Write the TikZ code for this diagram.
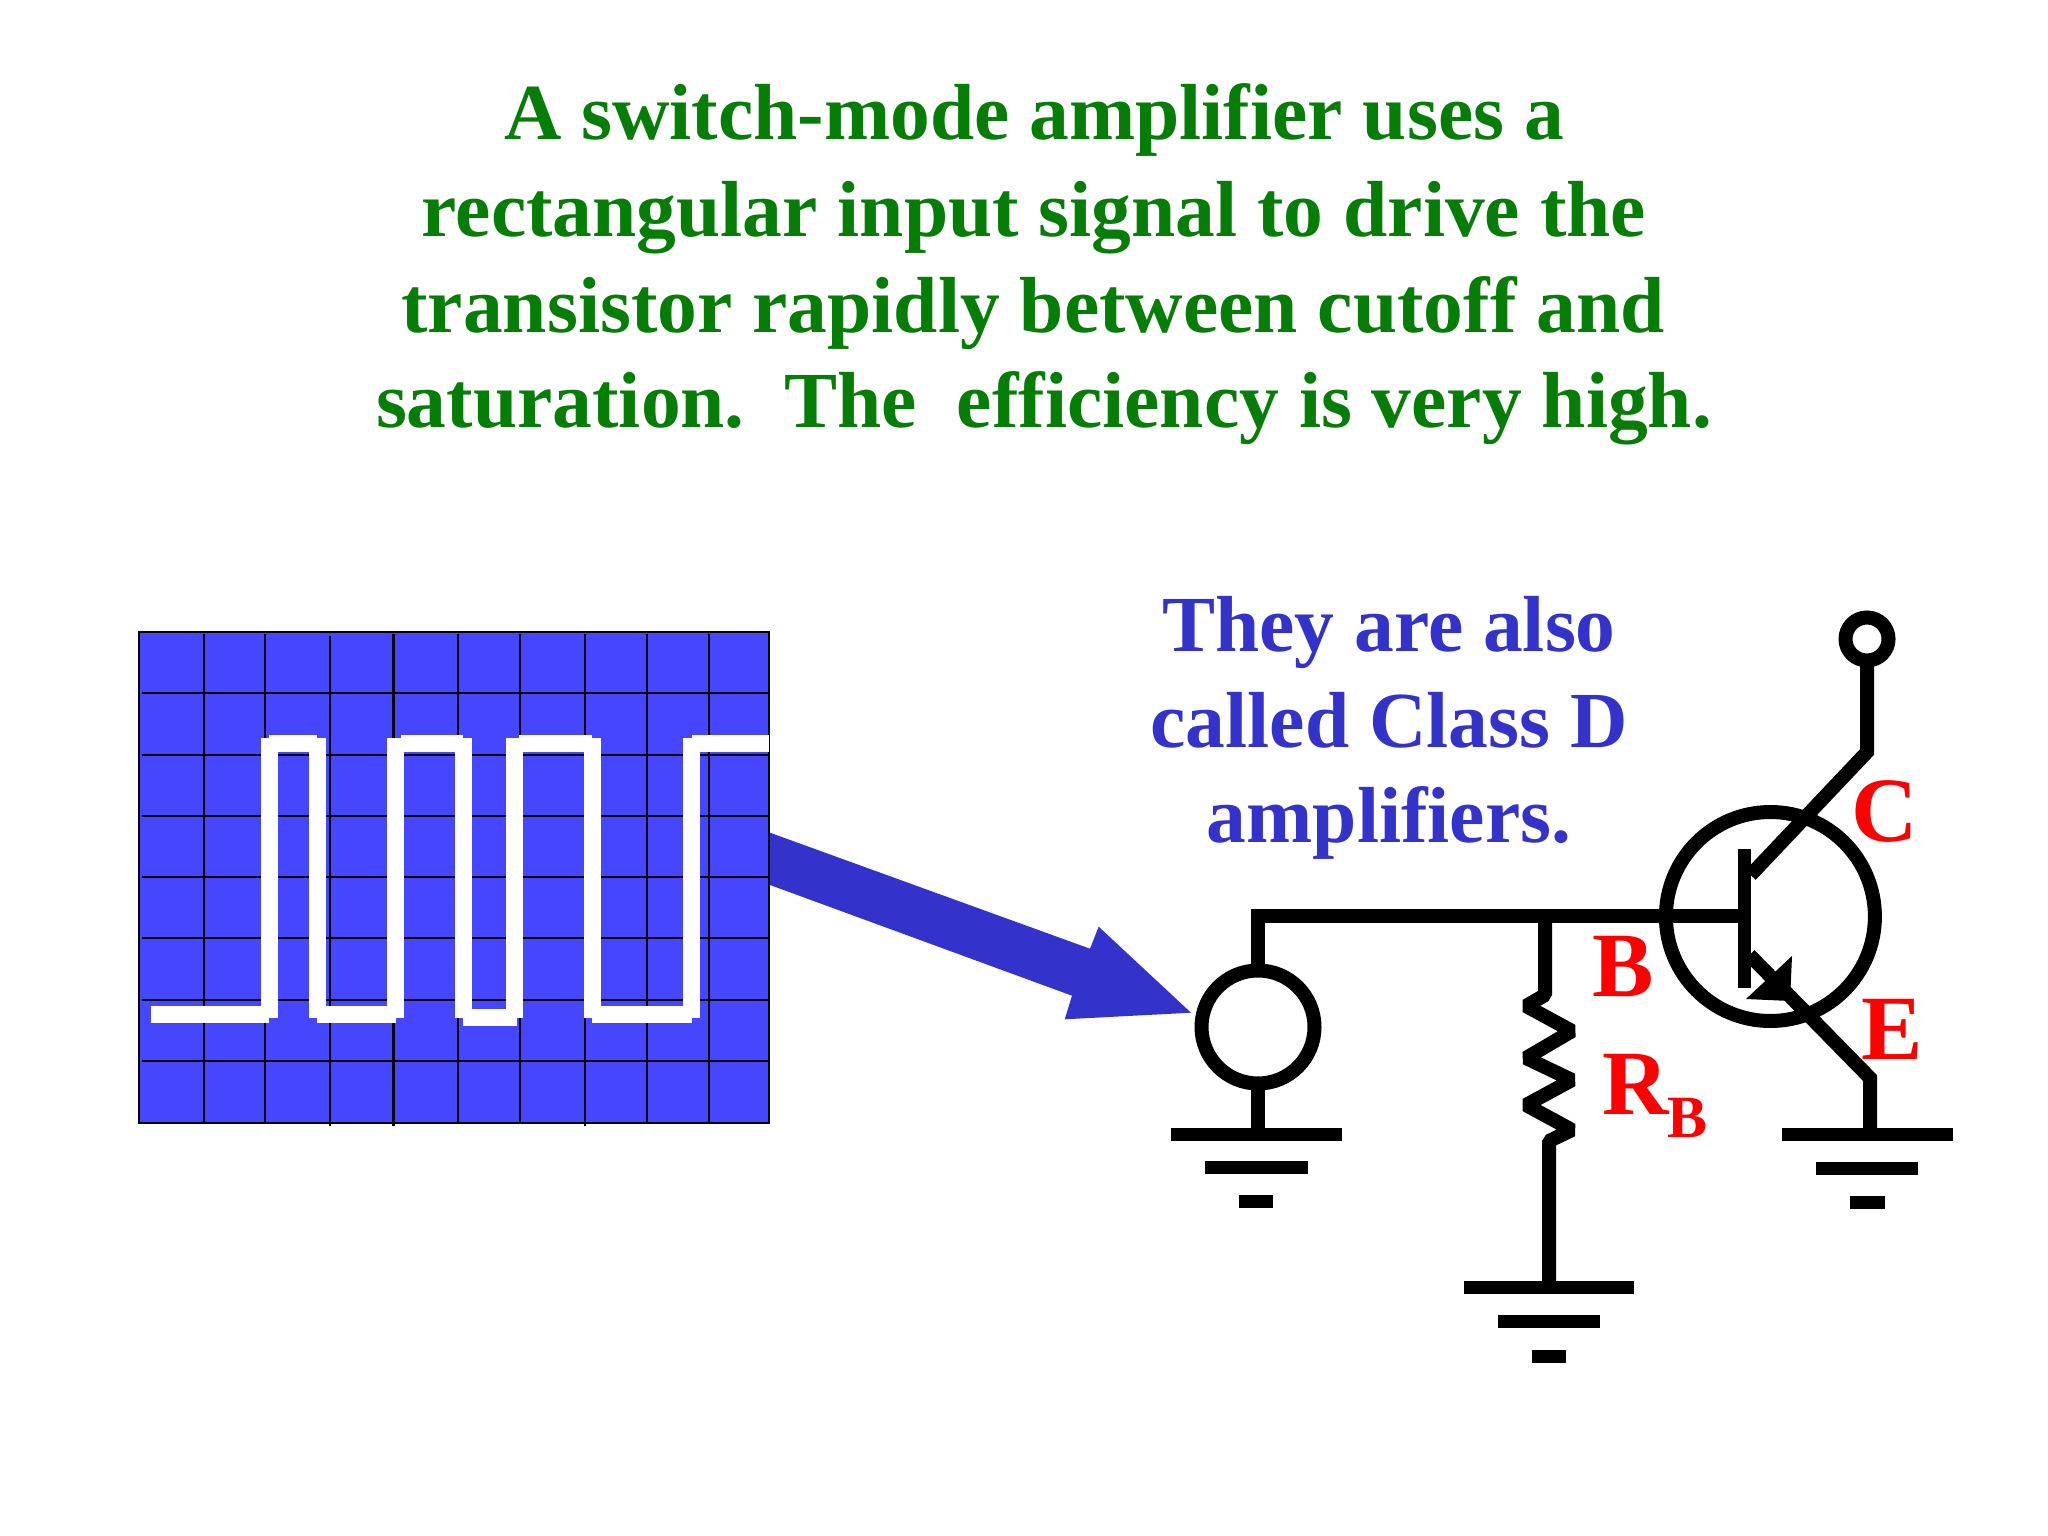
\documentclass[tikz,border=0pt]{standalone}
\usepackage{fontspec}
\setmainfont{Liberation Serif}
\definecolor{ttl}{HTML}{067D06}
\definecolor{blu}{HTML}{3333CC}
\definecolor{scp}{HTML}{4646FF}
\definecolor{arw}{HTML}{3333CC}
\begin{document}
\begin{tikzpicture}[x=1pt,y=-1pt,
  txt/.style={anchor=base,inner sep=0pt,font=\bfseries\fontsize{79.5}{96}\selectfont},
  title/.style={txt,text=ttl},
  side/.style={txt,text=blu},
  lab/.style={anchor=base west,inner sep=0pt,text=red,font=\bfseries\fontsize{92}{92}\selectfont},
  sublab/.style={anchor=base west,inner sep=0pt,text=red,font=\bfseries\fontsize{60}{60}\selectfont},
  wire/.style={line width=14pt,black},
  ring/.style={circle,draw=black,line width=14pt,inner sep=0pt,outer sep=0pt},
  gridln/.style={black,line width=2pt},
  wave/.style={white,line width=17pt,line cap=butt},
  gbar/.style={black,line width=13pt,line cap=butt}
]
\useasboundingbox (0,0) rectangle (2048,1536);
\fill[white] (0,0) rectangle (2048,1536);

% title
\node[title] (t1) at (1034,140) {A switch-mode amplifier uses a};
\node[title] (t2) at (1034,236) {rectangular input signal to drive the};
\node[title] (t3) at (1033,332) {transistor rapidly between cutoff and};
\node[title] (t4) at (1044,427) {saturation.\ \ The\ \ efficiency is very high.};

% side text
\node[side] (s1) at (1389,651) {They are also};
\node[side] (s2) at (1389,747) {called Class D};
\node[side] (s3) at (1389,842) {amplifiers.};

% scope screen
\fill[scp] (139,632) rectangle (769,1123);
\foreach \x in {204,265,458,520,647,709} \draw[gridln] (\x,634) -- (\x,1123);
\draw[gridln] (330,636) -- (330,1126);
\draw[black,line width=3pt] (393,634) -- (393,1126);
\draw[gridln] (585,634) -- (585,1126);
\foreach \y in {693.4,754.5,815.9,877,938.4,999.5,1060.5} \draw[gridln] (142,\y) -- (769,\y);
\draw[black,line width=2.5pt] (139,632) rectangle (769,1123);

% waveform
\foreach \x in {269.6,317.3,395.8,463,514,592,691.5} \draw[wave] (\x,738) -- (\x,1018);
\draw[wave] (151,1014) -- (269,1014);
\draw[wave] (269,743) -- (317,743);
\draw[wave] (317,1014) -- (396,1014);
\draw[wave] (401,743) -- (463,743);
\draw[wave] (463,1017.5) -- (517,1017.5);
\draw[wave] (519,743) -- (592,743);
\draw[wave] (592,1014) -- (692,1014);
\draw[wave] (692,743) -- (769,743);

% big arrow
\fill[arw] (770,832.7) -- (1090,948.7) -- (1098.7,926.7) -- (1191,1012.7) -- (1064.7,1019.3) -- (1072,995.7) -- (770,885) -- cycle;

% circuit
\node[ring,minimum size=209pt] (tr) at (1770.4,916.5) {};
\node[ring,minimum size=113pt] (src) at (1258,1027) {};
\node[ring,minimum size=43pt] (vcc) at (1867,639) {};

\coordinate (bl) at (1256,916);
\coordinate (rj) at (1545,916);
\coordinate (bb) at (1744,916);
\coordinate (bt) at (1744,848.5);
\coordinate (bd) at (1744,987.5);
\coordinate (cb) at (1750.6,875);
\coordinate (ct) at (1867,752);
\coordinate (eb) at (1749.5,955);
\coordinate (et) at (1870,1078);
\coordinate (eg) at (1870,1134);
\coordinate (sg) at (1258,1141);
\coordinate (rb) at (1549,1141);
\coordinate (rg) at (1549,1288);

% base wire, source
\draw[wire] (src.north) -- (src.north |- bl) -- (bb);
\draw[wire] (src.south) -- (sg);
% resistor
\draw[wire,line join=bevel] (rj) -- (1545,995) -- (1526,1006) -- (1572,1031) -- (1526,1058) -- (1572,1080) -- (1526,1105) -- (1572,1130) -- (rb) -- (rg);
% transistor
\draw[black,line width=13pt] (bt) -- (bd);
\draw[wire] (vcc.south) -- (ct) -- (cb);
\draw[wire] (eb) -- (et) -- (eg);
\fill[black] (1792,956) -- (1746,999) -- (1790,1001) -- cycle;

% grounds
\draw[gbar] (1171,1134) -- (1342,1134);
\draw[gbar] (1205,1167.5) -- (1308,1167.5);
\draw[gbar] (1239,1201) -- (1273,1201);
\draw[gbar] (1782,1134) -- (1952.5,1134);
\draw[gbar] (1816,1168) -- (1918,1168);
\draw[gbar] (1850,1202) -- (1884.5,1202);
\draw[gbar] (1463.5,1287) -- (1634,1287);
\draw[gbar] (1498,1321) -- (1600,1321);
\draw[gbar] (1532,1356) -- (1566,1356);

% labels
\node[lab] (lc) at (1851,841) {C};
\node[lab] (lb) at (1592,996.5) {B};
\node[lab] (le) at (1861,1059) {E};
\node[lab] (lr) at (1602,1114) {R};
\node[sublab] (lrb) at (1667,1137) {B};
\end{tikzpicture}
\end{document}
